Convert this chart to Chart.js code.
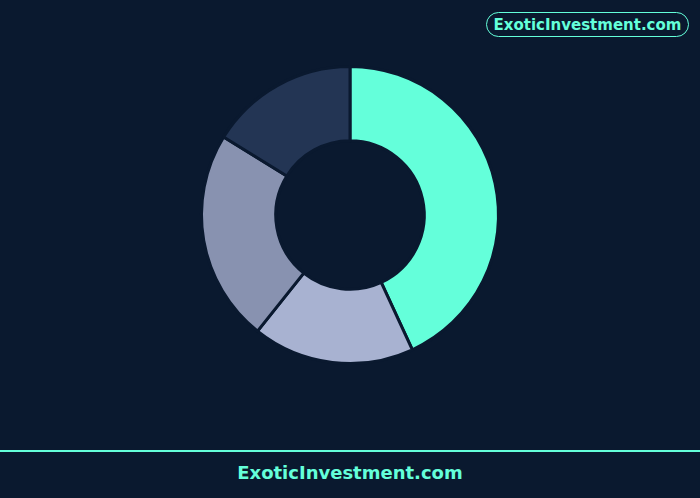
<!DOCTYPE html>
<html>
<head>
<meta charset="utf-8">
<script src="https://cdn.jsdelivr.net/npm/chart.js@4.4.1/dist/chart.umd.min.js"></script>
<style>
  html, body { margin: 0; padding: 0; background: #0a192f; width: 700px; height: 498px; overflow: hidden; font-family: "DejaVu Sans", sans-serif; }
  #wrap { position: absolute; left: 0; top: 65px; width: 700px; height: 300px; }
  #badge { position: absolute; left: 486px; top: 12px; width: 201px; height: 23px; border: 1.5px solid #64ffda; border-radius: 12.5px; color: #64ffda; font-weight: bold; font-size: 15px; line-height: 24px; text-align: center; box-sizing: content-box; }
  #rule { position: absolute; left: 0; top: 450px; width: 700px; height: 2px; background: #64ffda; }
  #footer { position: absolute; left: 0; top: 462px; width: 700px; text-align: center; color: #64ffda; font-weight: bold; font-size: 18px; line-height: 22px; }
</style>
</head>
<body>
<div id="wrap"><canvas id="c"></canvas></div>
<div id="badge">ExoticInvestment.com</div>
<div id="rule"></div>
<div id="footer">ExoticInvestment.com</div>
<script>
const categories = ["Segment A", "Segment B", "Segment C", "Segment D"];
const values = [43.1, 17.6, 23.1, 16.2];
const colors = ["#64ffda", "#a8b2d1", "#8892b0", "#233554"];

new Chart(document.getElementById("c"), {
  type: "doughnut",
  data: {
    labels: categories,
    datasets: [{
      data: values,
      backgroundColor: colors,
      borderColor: "#0a192f",
      borderWidth: 3
    }]
  },
  options: {
    responsive: true,
    maintainAspectRatio: false,
    animation: false,
    cutout: "50%",
    layout: { padding: 0 },
    plugins: { legend: { display: false }, tooltip: { enabled: false } }
  }
});
</script>
</body>
</html>
